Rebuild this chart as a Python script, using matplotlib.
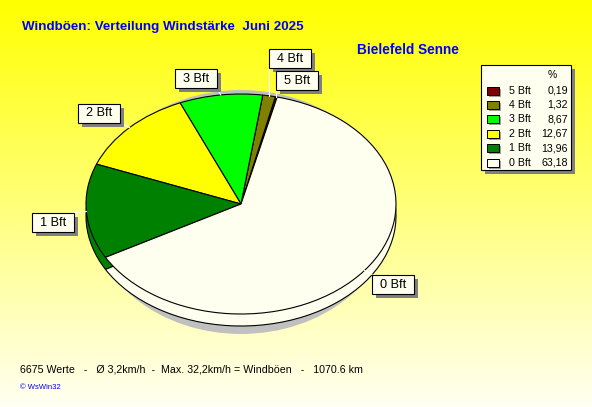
import numpy as np
import matplotlib
matplotlib.use('Agg')
import matplotlib.pyplot as plt
from matplotlib.patches import Rectangle, Ellipse

# data
categories = ['5 Bft', '4 Bft', '3 Bft', '2 Bft', '1 Bft', '0 Bft']
percent = [0.19, 1.32, 8.67, 12.67, 13.96, 63.18]
percent_labels = ['0,19', '1,32', '8,67', '12,67', '13,96', '63,18']
colors = ['#800000', '#808000', '#00ff00', '#ffff00', '#008000', '#fffff0']

title = 'Windböen: Verteilung Windstärke  Juni 2025'
station = 'Bielefeld Senne'
footer = '6675 Werte   -   Ø 3,2km/h  -  Max. 32,2km/h = Windböen   -   1070.6 km'
credit = '© WsWin32'

# layout (pixels)
W, H = 592, 407
CX, CY, RX, RY = 241, 204, 155, 110
DEPTH = 12
START = 76.5
BOX_W, BOX_H = 42, 19
label_pos = {
    '5 Bft': (297, 80),
    '4 Bft': (290, 58),
    '3 Bft': (196, 78),
    '2 Bft': (99, 113),
    '1 Bft': (53, 222),
    '0 Bft': (393, 284),
}

plt.rcParams['font.family'] = ['Liberation Sans', 'DejaVu Sans']
BLUE = '#0000ff'

fig = plt.figure(figsize=(W / 100, H / 100), dpi=100)

# background gradient: yellow at the top, pale cream at the bottom
bg = fig.add_axes([0, 0, 1, 1])
t = np.linspace(0, 1, 256)[:, None, None]
top = np.array([1.0, 1.0, 0.0])
bottom = np.array([1.0, 1.0, 0.95])
img = top + (bottom - top) * t
bg.imshow(img, extent=[0, W, H, 0], aspect='auto', interpolation='bilinear')
bg.set_xlim(0, W)
bg.set_ylim(H, 0)
bg.axis('off')

# pie axes: unit circle maps to an ellipse of RX x RY pixels
ax = fig.add_axes([0, 0, 1, 1])
ax.patch.set_visible(False)
ax.add_patch(Ellipse((0, -8 / RY), 2 * 150 / RX, 2 * 122 / RY,
                     facecolor='#c0c0c0', edgecolor='none', zorder=0.5))
wp = dict(edgecolor='black', linewidth=0.8)
ax.pie(percent, colors=colors, startangle=START, counterclock=True,
       center=(0, -DEPTH / RY), wedgeprops=wp)
ax.pie(percent, colors=colors, startangle=START, counterclock=True,
       center=(0, 0), wedgeprops=wp)
ax.set_aspect('auto')
ax.set_xlim(-CX / RX, (W - CX) / RX)
ax.set_ylim(-(H - CY) / RY, CY / RY)
ax.axis('off')

# overlay for labels, legend and texts (pixel coords)
ov = fig.add_axes([0, 0, 1, 1])
ov.set_xlim(0, W)
ov.set_ylim(H, 0)
ov.axis('off')

# slice labels with leader lines
fracs = np.array(percent) / sum(percent)
edges = START + 360 * np.concatenate([[0], np.cumsum(fracs)])
for i, cat in enumerate(categories):
    mid = np.radians((edges[i] + edges[i + 1]) / 2)
    rx_pt = CX + RX * np.cos(mid)
    ry_pt = CY - RY * np.sin(mid)
    bx, by = label_pos[cat]
    x0, x1 = bx - BOX_W / 2, bx + BOX_W / 2
    y0, y1 = by - BOX_H / 2, by + BOX_H / 2
    nx = min(max(rx_pt, x0), x1)
    ny = min(max(ry_pt, y0), y1)
    ov.plot([rx_pt, nx], [ry_pt, ny], color='white', lw=0.8, zorder=2)
    ov.add_patch(Rectangle((x0 + 4, y0 + 4), BOX_W, BOX_H,
                           facecolor='#808080', edgecolor='none', zorder=3))
    ov.add_patch(Rectangle((x0, y0), BOX_W, BOX_H, facecolor='#fffff0',
                           edgecolor='black', lw=0.8, zorder=4))
    ov.text(bx, by + 0.5, cat, fontsize=9.2, ha='center', va='center', zorder=5)

# legend box
lx0, ly0, lx1, ly1 = 481, 65, 571, 170
ov.add_patch(Rectangle((lx0 + 4, ly0 + 4), lx1 - lx0, ly1 - ly0,
                       facecolor='#808080', edgecolor='none', zorder=3))
ov.add_patch(Rectangle((lx0, ly0), lx1 - lx0, ly1 - ly0, facecolor='#fffff0',
                       edgecolor='black', lw=0.8, zorder=4))
ov.text(552, 75, '%', fontsize=7.5, ha='center', va='center', zorder=5)
for i, cat in enumerate(categories):
    y = 90.5 + 14.4 * i
    ov.add_patch(Rectangle((489, y - 2), 12, 8, facecolor='#a0a0a0',
                           edgecolor='none', zorder=4.5))
    ov.add_patch(Rectangle((487, y - 4), 12, 8, facecolor=colors[i],
                           edgecolor='black', lw=0.7, zorder=5))
    ov.text(509, y, cat, fontsize=7.7, ha='left', va='center', zorder=5)
    ov.text(568, y, percent_labels[i], fontsize=7.7, ha='right', va='center', zorder=5)

# titles and footer
ov.text(22, 30, title, fontsize=9.6, fontweight='bold', color=BLUE, va='baseline')
ov.text(357, 54, station, fontsize=9.8, fontweight='bold', color=BLUE, va='baseline')
ov.text(20, 373, footer, fontsize=7.7, va='baseline')
ov.text(20, 389, credit, fontsize=5.5, color=BLUE, va='baseline')

fig.savefig('out.png', dpi=100)
